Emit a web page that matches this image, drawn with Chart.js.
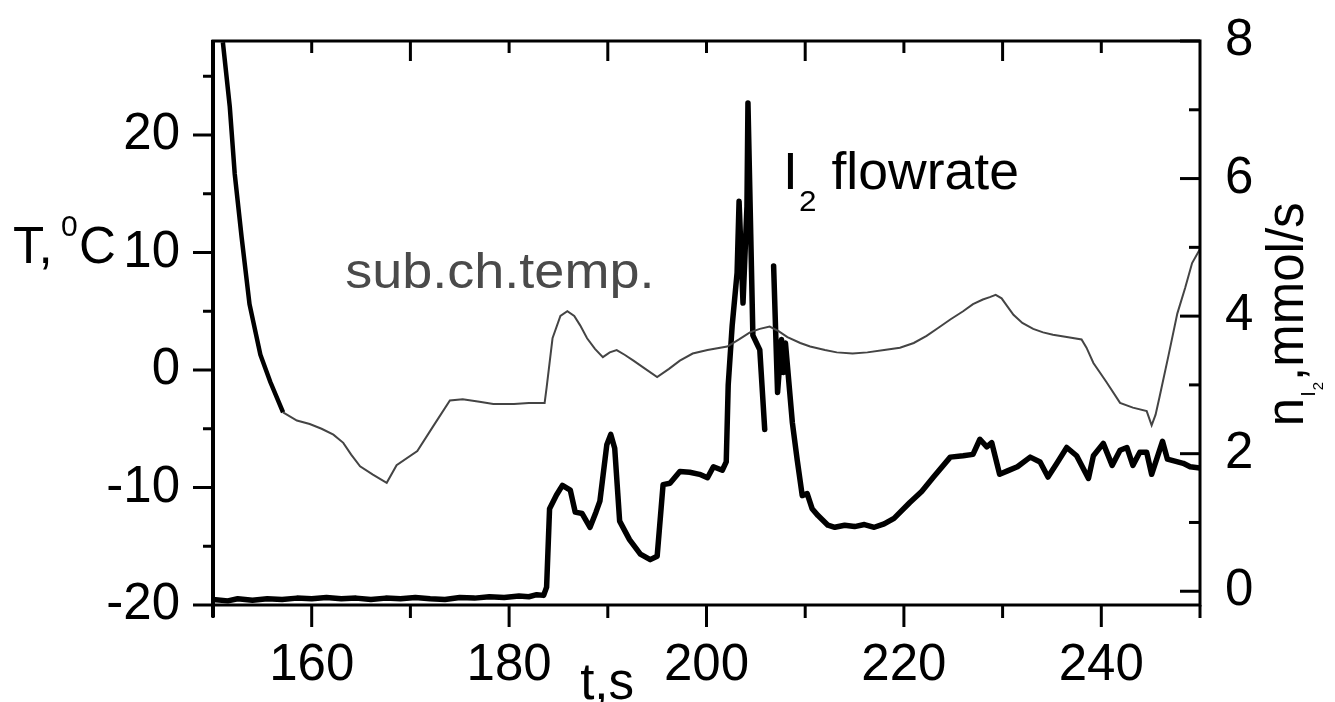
<!DOCTYPE html>
<html><head><meta charset="utf-8">
<script src="https://cdn.jsdelivr.net/npm/chart.js@4.4.0/dist/chart.umd.min.js"></script>
<style>html,body{margin:0;padding:0;background:#fff;overflow:hidden}#wrap{width:1335px;height:702px}</style>
</head><body><div id="wrap"><canvas id="c" width="1335" height="702"></canvas></div>
<script>
// ---- data ----
const tempTime = [151.0,151.7,152.2,152.9,153.7,154.8,155.8,157.1,158.5,159.8,161.0,162.2,163.2,164.0,164.9,166.2,167.6,168.6,170.7,172.3,174.0,175.3,177.0,178.4,180.5,182.0,183.6,183.8,184.4,185.2,185.9,186.6,187.2,187.9,188.7,189.5,190.2,190.9,191.7,192.6,193.8,195.0,196.2,197.3,198.6,200.1,202.1,203.3,204.4,205.4,206.4,207.3,208.2,209.5,210.5,212.0,213.2,214.8,216.3,218.0,219.6,221.0,222.3,223.5,224.7,226.0,227.0,228.0,228.7,229.3,229.9,230.5,231.1,232.0,233.1,234.1,235.1,236.5,238.0,238.5,239.2,240.5,241.9,243.2,244.6,245.1,245.5,245.9,246.8,247.7,248.5,249.2,250.0];
const tempValues = [27.9,22.4,16.7,11.3,5.6,1.3,-1.0,-3.6,-4.3,-4.6,-5.0,-5.5,-6.2,-7.2,-8.2,-8.9,-9.6,-8.1,-6.9,-4.8,-2.6,-2.5,-2.7,-2.9,-2.9,-2.8,-2.8,-1.5,2.7,4.6,5.0,4.6,3.8,2.7,1.8,1.1,1.5,1.7,1.3,0.8,0.1,-0.6,0.1,0.8,1.4,1.7,2.0,2.6,3.2,3.5,3.7,3.3,2.8,2.3,2.0,1.7,1.5,1.4,1.5,1.7,1.9,2.3,2.9,3.6,4.3,5.0,5.6,6.0,6.2,6.4,6.1,5.4,4.7,4.0,3.5,3.2,3.0,2.8,2.6,1.9,0.6,-1.0,-2.8,-3.2,-3.5,-4.7,-3.8,-2.3,1.2,4.8,7.0,9.1,10.3];
const flowTime = [150.0,151.5,152.5,154.0,155.5,157.0,158.5,160.0,161.5,163.0,164.5,166.0,167.5,169.0,170.5,172.0,173.5,175.0,176.5,178.0,179.5,181.0,182.0,182.8,183.5,183.8,184.1,184.8,185.4,186.2,186.7,187.4,188.2,188.8,189.2,189.9,190.3,190.7,191.2,192.2,193.3,194.3,195.0,195.6,196.3,197.3,198.3,199.3,200.1,200.7,201.6,202.0,202.2,202.6,203.1,203.3,203.7,204.1,204.2,204.7,205.4,205.9,206.3,206.8,207.2,207.6,207.8,208.0,208.7,209.2,209.7,210.2,210.7,211.3,212.3,213.0,214.0,215.0,216.0,217.0,218.0,219.0,220.6,221.8,223.0,224.7,226.0,227.0,227.7,228.4,228.9,229.7,230.5,231.5,232.8,233.8,234.6,235.5,236.5,237.5,238.7,239.2,240.2,241.1,241.9,242.6,243.2,243.9,244.6,245.1,246.2,246.7,248.3,249.0,250.0];
const flowValues = [-0.12,-0.14,-0.11,-0.13,-0.11,-0.12,-0.10,-0.11,-0.09,-0.11,-0.10,-0.12,-0.10,-0.11,-0.09,-0.11,-0.12,-0.09,-0.10,-0.08,-0.09,-0.07,-0.08,-0.05,-0.06,0.06,1.2,1.40,1.54,1.47,1.15,1.13,0.93,1.15,1.31,2.13,2.28,2.08,1.02,0.75,0.54,0.46,0.51,1.55,1.57,1.74,1.73,1.70,1.65,1.81,1.76,1.88,3.0,3.86,4.63,5.67,4.19,5.6,7.10,3.72,3.51,2.35,null,4.73,2.89,3.66,3.18,3.61,2.45,1.9,1.39,1.42,1.2,1.1,0.96,0.93,0.96,0.94,0.97,0.93,0.98,1.06,1.29,1.45,1.66,1.95,1.97,1.99,2.21,2.10,2.16,1.70,1.75,1.81,1.95,1.88,1.66,1.86,2.09,1.97,1.64,1.97,2.15,1.83,2.05,2.09,1.83,2.02,2.02,1.70,2.18,1.92,1.86,1.81,1.79];

// ---- ticks ----
const xTicks = [150,160,170,180,190,200,210,220,230,240,250];
const xTickLabels = [160,180,200,220,240];
const leftTicks = [-20,-15,-10,-5,0,5,10,15,20,25];
const leftTickLabels = [-20,-10,0,10,20];
const rightTicks = [0,1,2,3,4,5,6,7,8];
const rightTickLabels = [0,2,4,6,8];

const FONT = '"Liberation Sans", Arial, Helvetica, sans-serif';
Chart.defaults.font.family = FONT;
Chart.defaults.color = '#000';

const tempData = tempTime.map((t,i)=>({x:t,y:tempValues[i]}));
const flowData = flowTime.map((t,i)=>({x:t,y:flowValues[i]}));

function setTicks(list){ return s => { s.ticks = list.map(v=>({value:v})); }; }
function labelCb(list){ return v => list.includes(v) ? String(v) : ''; }
function fitW(w){ return s => { s.width = w; s.paddingTop = 0; s.paddingBottom = 0; }; }

const decor = {
  id:'decor',
  afterDraw(chart){
    const {ctx, chartArea:a, scales} = chart;
    const x = scales.x, y = scales.y, y1 = scales.y1;
    ctx.save();
    ctx.strokeStyle = '#000'; ctx.lineCap = 'butt';
    const seg = (x0,y0,x1,y1_)=>{ctx.beginPath();ctx.moveTo(x0,y0);ctx.lineTo(x1,y1_);ctx.stroke();};
    // frame
    ctx.lineWidth = 3;
    ctx.strokeRect(a.left, a.top, a.right-a.left, a.bottom-a.top);
    ctx.lineWidth = 4;
    seg(a.left, a.top-1, a.left, a.bottom+12);
    // x ticks (outward) and top ticks (inward)
    ctx.lineWidth = 3;
    xTicks.forEach(v=>{
      const px = x.getPixelForValue(v);
      const major = xTickLabels.includes(v);
      seg(px, a.bottom, px, a.bottom + (major ? 22 : 13));
      if (v > 150 && v < 250) seg(px, a.top, px, a.top + (major ? 12 : 20));
    });
    // left ticks (outward)
    leftTicks.forEach(v=>{
      const py = y.getPixelForValue(v);
      const len = leftTickLabels.includes(v) ? 20 : 10;
      seg(a.left, py, a.left-len, py);
    });
    // right ticks (inward)
    rightTicks.forEach(v=>{
      const py = y1.getPixelForValue(v);
      const len = rightTickLabels.includes(v) ? 20 : 11;
      seg(a.right, py, a.right-len, py);
    });
    // texts
    ctx.fillStyle = '#000';
    ctx.textBaseline = 'alphabetic';
    ctx.textAlign = 'left';
    // T,0C
    const by = y.getPixelForValue(10) + 10;
    ctx.font = '51px ' + FONT;
    ctx.fillText('T,', 13, by);
    ctx.font = '30px ' + FONT;
    ctx.fillText('0', 61, by - 27);
    ctx.font = '51px ' + FONT;
    ctx.fillText('C', 79, by);
    // t,s
    ctx.fillText('t,s', x.getPixelForValue(187.2), chart.height - 3);
    // right title rotated
    ctx.save();
    ctx.translate(a.right + 103, y1.getPixelForValue(2.4));
    ctx.rotate(-Math.PI/2);
    let cx = 0;
    ctx.font = '51px ' + FONT;
    ctx.fillText('n', cx, 0); cx += ctx.measureText('n').width + 1;
    ctx.font = '20px ' + FONT;
    ctx.fillText('I', cx, 12); cx += ctx.measureText('I').width + 1;
    ctx.font = '15px ' + FONT;
    ctx.fillText('2', cx, 20); cx += ctx.measureText('2').width + 1;
    ctx.font = '51px ' + FONT;
    ctx.fillText(',mmol/s', cx, 0);
    ctx.restore();
    // I2 flowrate (slightly wide lettering as in the scan)
    ctx.save();
    ctx.translate(x.getPixelForValue(207.75), y1.getPixelForValue(5.85));
    ctx.scale(1.05, 1);
    ctx.font = '51px ' + FONT;
    ctx.fillText('I', 0, 0);
    const iw = ctx.measureText('I').width;
    ctx.font = '30px ' + FONT;
    ctx.fillText('2', iw + 1, 22);
    ctx.font = '51px ' + FONT;
    ctx.fillText('flowrate', iw + 32, 0);
    ctx.restore();
    // sub.ch.temp.
    ctx.save();
    ctx.translate(x.getPixelForValue(163.4), y.getPixelForValue(7.0));
    ctx.scale(1.08, 1);
    ctx.fillStyle = '#4a4a4a';
    ctx.font = '50px ' + FONT;
    ctx.fillText('sub.ch.temp.', 0, 0);
    ctx.restore();
    ctx.restore();
  }
};

new Chart(document.getElementById('c'), {
  type:'line',
  data:{datasets:[
    {label:'sub.ch.temp.', data:tempData, yAxisID:'y', borderColor:'#444', borderWidth:2, pointRadius:0, tension:0,
     segment:{borderWidth: c => c.p0.parsed.x < 156.5 ? 4.5 : 2, borderColor: c => c.p0.parsed.x < 156.5 ? '#000' : '#444'}},
    {label:'I2 flowrate', data:flowData, yAxisID:'y1', borderColor:'#000', borderWidth:5.5, pointRadius:0, tension:0, spanGaps:false, borderJoinStyle:'round', borderCapStyle:'round'}
  ]},
  options:{
    responsive:false, animation:false, devicePixelRatio:1,
    layout:{padding:{top:41,left:0,right:0,bottom:0}},
    plugins:{legend:{display:false}, tooltip:{enabled:false}},
    scales:{
      x:{type:'linear', min:150, max:250, afterBuildTicks:setTicks(xTicks), afterFit:s=>{s.height=97; s.paddingLeft=0; s.paddingRight=0;},
         grid:{display:false, drawTicks:false}, border:{display:false},
         ticks:{autoSkip:false, maxRotation:0, padding:30, font:{size:51}, callback:labelCb(xTickLabels)}},
      y:{type:'linear', position:'left', min:-20, max:28, afterBuildTicks:setTicks(leftTicks), afterFit:fitW(213),
         grid:{display:false, drawTicks:false}, border:{display:false},
         ticks:{autoSkip:false, padding:33, font:{size:51}, callback:labelCb(leftTickLabels)}},
      y1:{type:'linear', position:'right', min:-0.2, max:8.0, afterBuildTicks:setTicks(rightTicks), afterFit:fitW(135),
         grid:{display:false, drawTicks:false}, border:{display:false},
         ticks:{autoSkip:false, padding:25, font:{size:51}, callback:labelCb(rightTickLabels)}}
    }
  },
  plugins:[decor]
});
</script></body></html>
